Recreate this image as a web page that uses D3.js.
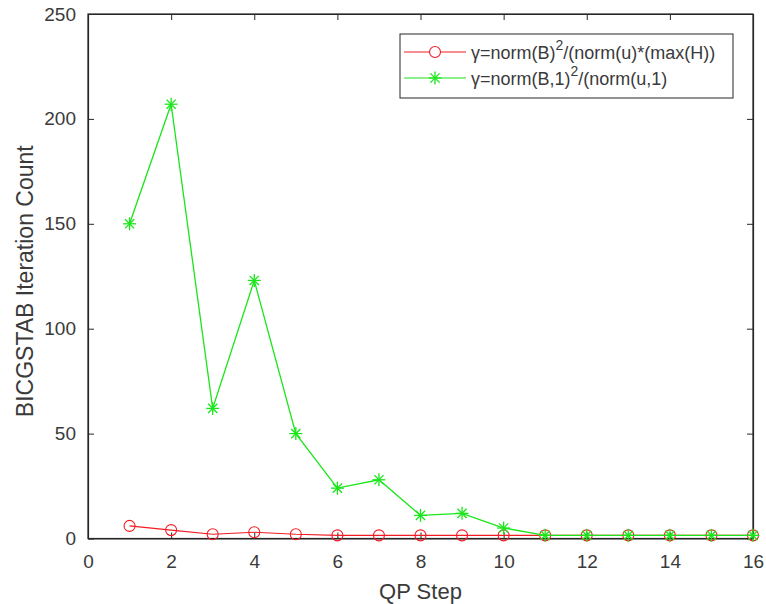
<!DOCTYPE html>
<html>
<head>
<meta charset="utf-8">
<script src="https://cdn.jsdelivr.net/npm/d3@7"></script>
<style>
  body { margin: 0; background: #fff; }
  text { font-family: "Liberation Sans", Arial, sans-serif; }
</style>
</head>
<body>
<div id="chart"></div>
<script>
// data
const steps = [1, 2, 3, 4, 5, 6, 7, 8, 9, 10, 11, 12, 13, 14, 15, 16];
const redIters = [6, 4, 2, 3, 2, 1.5, 1.5, 1.5, 1.5, 1.5, 1.5, 1.5, 1.5, 1.5, 1.5, 1.5];
const greenIters = [150, 207, 62, 123, 50, 24, 28, 11, 12, 5, 1.5, 1.5, 1.5, 1.5, 1.5, 1.5];
const xTicks = [0, 2, 4, 6, 8, 10, 12, 14, 16];
const yTicks = [0, 50, 100, 150, 200, 250];

const width = 766, height = 604;
const margin = { left: 88, right: 13, top: 14, bottom: 65.5 };

const svg = d3.select('#chart').append('svg')
  .attr('width', width)
  .attr('height', height);

const x = d3.scaleLinear().domain([0, 16]).range([margin.left, width - margin.right]);
const y = d3.scaleLinear().domain([0, 250]).range([height - margin.bottom, margin.top]);

const axisColor = '#262626';
const textColor = '#3a3a3a';
const tickLen = 6;

// box
svg.append('rect')
  .attr('x', x(0)).attr('y', y(250))
  .attr('width', x(16) - x(0)).attr('height', y(0) - y(250))
  .attr('fill', 'none').attr('stroke', axisColor).attr('stroke-width', 1.2);

// x axis (bottom ticks inward, labels below)
const xAxis = svg.append('g')
  .attr('transform', `translate(0,${y(0)})`)
  .call(d3.axisBottom(x).tickValues(xTicks).tickSizeInner(-tickLen).tickSizeOuter(0).tickPadding(16));
const xTop = svg.append('g')
  .attr('transform', `translate(0,${y(250)})`)
  .call(d3.axisTop(x).tickValues(xTicks).tickSizeInner(-tickLen).tickSizeOuter(0).tickFormat(''));

const yAxis = svg.append('g')
  .attr('transform', `translate(${x(0)},0)`)
  .call(d3.axisLeft(y).tickValues(yTicks).tickSizeInner(-tickLen).tickSizeOuter(0).tickPadding(12));
const yRight = svg.append('g')
  .attr('transform', `translate(${x(16)},0)`)
  .call(d3.axisRight(y).tickValues(yTicks).tickSizeInner(-tickLen).tickSizeOuter(0).tickFormat(''));

[xAxis, xTop, yAxis, yRight].forEach(g => {
  g.select('.domain').attr('stroke', axisColor).attr('stroke-width', 1.2);
  g.selectAll('.tick line').attr('stroke', axisColor);
  g.selectAll('.tick text')
    .attr('fill', textColor)
    .style('font-size', '19px')
    .style('font-family', '"Liberation Sans", Arial, sans-serif');
});

// axis titles
svg.append('text')
  .attr('x', (x(0) + x(16)) / 2).attr('y', 599)
  .attr('text-anchor', 'middle')
  .attr('fill', textColor)
  .style('font-size', '22px')
  .text('QP Step');

svg.append('text')
  .attr('transform', `translate(33,${(y(0) + y(250)) / 2 + 5}) rotate(-90)`)
  .attr('text-anchor', 'middle')
  .attr('fill', textColor)
  .style('font-size', '23px')
  .text('BICGSTAB Iteration Count');

const line = d3.line()
  .x((d, i) => x(steps[i]))
  .y(d => y(d));

const red = '#f21c24', green = '#19e619';

const asterisk = (g, cx, cy, r, color) => {
  const p = g.append('g').attr('transform', `translate(${cx},${cy})`);
  [0, 45, 90, 135].forEach(a => {
    const rad = a * Math.PI / 180;
    p.append('line')
      .attr('x1', -r * Math.cos(rad)).attr('y1', -r * Math.sin(rad))
      .attr('x2', r * Math.cos(rad)).attr('y2', r * Math.sin(rad))
      .attr('stroke', color).attr('stroke-width', 1.3);
  });
};

// red series
svg.append('path')
  .datum(redIters)
  .attr('d', line)
  .attr('fill', 'none').attr('stroke', red).attr('stroke-width', 1.1);
svg.selectAll('circle.red')
  .data(redIters)
  .enter().append('circle')
  .attr('class', 'red')
  .attr('cx', (d, i) => x(steps[i]))
  .attr('cy', d => y(d))
  .attr('r', 5.5)
  .attr('fill', 'none').attr('stroke', red).attr('stroke-width', 1.1);

// green series
svg.append('path')
  .datum(greenIters)
  .attr('d', line)
  .attr('fill', 'none').attr('stroke', green).attr('stroke-width', 1.3);
const gm = svg.append('g');
greenIters.forEach((d, i) => asterisk(gm, x(steps[i]), y(d), 6.5, green));

// legend
const leg = svg.append('g').attr('transform', 'translate(400,34)');
leg.append('rect')
  .attr('width', 333).attr('height', 64)
  .attr('fill', '#fff').attr('stroke', axisColor).attr('stroke-width', 1);

const legItems = [
  { color: red, base: '\u03b3=norm(B)', rest: '/(norm(u)*(max(H))', marker: 'o' },
  { color: green, base: '\u03b3=norm(B,1)', rest: '/(norm(u,1)', marker: '*' }
];
legItems.forEach((it, i) => {
  const ly = 18 + i * 26;
  leg.append('line')
    .attr('x1', 4).attr('x2', 66).attr('y1', ly).attr('y2', ly)
    .attr('stroke', it.color).attr('stroke-width', 1.2);
  if (it.marker === 'o') {
    leg.append('circle').attr('cx', 35).attr('cy', ly).attr('r', 5.5)
      .attr('fill', '#fff').attr('stroke', it.color).attr('stroke-width', 1.1);
  } else {
    asterisk(leg, 35, ly, 6.5, it.color);
  }
  const t = leg.append('text')
    .attr('x', 71).attr('y', ly + 7)
    .attr('fill', textColor)
    .style('font-size', '18px');
  t.append('tspan').text(it.base);
  t.append('tspan').attr('dy', -9).style('font-size', '14px').text('2');
  t.append('tspan').attr('dy', 9).text(it.rest);
});
</script>
</body>
</html>
